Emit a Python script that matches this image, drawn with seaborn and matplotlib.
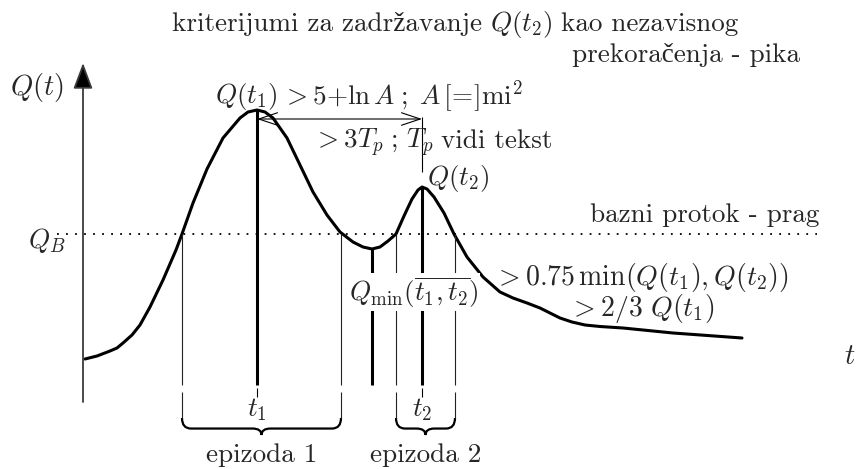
import numpy as np
import pandas as pd
import matplotlib
matplotlib.use("Agg")
import matplotlib.pyplot as plt
from matplotlib.path import Path
from matplotlib.patches import PathPatch
import seaborn as sns

# Hydrograph Q(t): time and discharge in drawing units (origin at the axes crossing)
t_vals = [2, 14, 27, 34, 40, 49, 57, 67, 80, 93, 99, 110, 124, 140, 157, 165, 174, 182, 190,
          204, 217, 230, 244, 257, 270, 280, 289, 297, 305, 313, 321, 329, 335, 339, 344,
          351, 361, 371, 384, 400, 417, 430, 444, 457, 477, 489, 502, 517, 540, 590, 659]
q_vals = [26, 29, 34, 37, 42, 50, 60, 78, 105, 135, 151, 182, 216, 247, 267, 273, 275, 273, 267,
          247, 220, 193, 170, 153, 143, 138, 136, 138, 144, 151, 169, 186, 195, 198, 196,
          188, 172, 151, 128, 108, 93, 87, 82, 77, 67, 63, 60, 58.5, 57, 52, 47]

# Characteristic points
t1, q1 = 174, 275
t2, q2 = 339, 198
t_min, q_min = 289, 136
q_base = 151
episode1 = (99, 258)
episode2 = (313, 372)

sns.set_theme(style="white")
plt.rcParams["font.family"] = ["cmr10", "Liberation Serif"]
plt.rcParams["mathtext.fontset"] = "cm"
plt.rcParams["axes.formatter.use_mathtext"] = True
plt.rcParams["axes.unicode_minus"] = False

fig = plt.figure(figsize=(8.59, 4.69), dpi=100)
ax = fig.add_axes([0, 0, 1, 1])
ax.set_xlim(-83, 776)
ax.set_ylim(-84, 385)
ax.axis("off")

ink = "black"
axis_col = "#3a3a3a"
fs = 19.5

# coordinate axes with filled arrowheads
head = "-|>,head_length=0.8,head_width=0.3"
ax.annotate("", xy=(779, 0), xytext=(-10, 0),
            arrowprops=dict(arrowstyle=head, mutation_scale=20, lw=1.3,
                            color=axis_col, fc=ink, ec=axis_col, shrinkA=0, shrinkB=0))
ax.annotate("", xy=(0, 322), xytext=(0, -17),
            arrowprops=dict(arrowstyle=head, mutation_scale=20, lw=1.3,
                            color=axis_col, fc=ink, ec=axis_col, shrinkA=0, shrinkB=0))

# base-flow threshold
ax.hlines(q_base, -26, 734, colors=ink, linestyles=(0, (1, 4)), lw=1.3)

# hydrograph
df = pd.DataFrame({"t": t_vals, "Q": q_vals})
sns.lineplot(data=df, x="t", y="Q", color=ink, lw=2.2, sort=False,
             estimator=None, ax=ax, legend=False)

# peaks and trough
ax.vlines([t1, t_min, t2], 0, [q1, q_min, q2], colors=ink, lw=2.2, zorder=3)
ax.vlines([t1, t2], -3, -12, colors=ink, lw=0.8)

# episode boundaries (threshold crossings)
bounds = list(episode1) + list(episode2)
ax.vlines(bounds, 0, q_base, colors="#222222", lw=0.8, zorder=3)
ax.vlines(bounds, -7, -33, colors="#222222", lw=0.8)


def brace(x0, x1, y_top, depth=17, r=9):
    xc = (x0 + x1) / 2
    ym = y_top - depth * 0.62
    verts = [(x0, y_top), (x0, ym), (x0 + r, ym), (xc - r, ym), (xc, ym), (xc, y_top - depth),
             (xc, ym), (xc + r, ym), (x1 - r, ym), (x1, ym), (x1, y_top)]
    codes = [Path.MOVETO, Path.CURVE3, Path.CURVE3, Path.LINETO, Path.CURVE3, Path.CURVE3,
             Path.CURVE3, Path.CURVE3, Path.LINETO, Path.CURVE3, Path.CURVE3]
    ax.add_patch(PathPatch(Path(verts, codes), fc="none", ec=ink, lw=1.6))
    return xc


c1 = brace(*episode1, -33)
c2 = brace(*episode2, -33)

# separation between peaks
ax.vlines(t2, 213, 268, colors=ink, lw=0.8)
ax.annotate("", xy=(t2, 266), xytext=(t1, 266),
            arrowprops=dict(arrowstyle="<->,head_length=0.9,head_width=0.3",
                            mutation_scale=15, lw=0.8, color=ink, shrinkA=0, shrinkB=0))

renderer = fig.canvas.get_renderer()


def text_run(x, y, pieces, gap=8):
    """Write text pieces one after another on a common baseline."""
    for s in pieces:
        t = ax.text(x, y, s, fontsize=fs, ha="left", va="baseline")
        bb = t.get_window_extent(renderer)
        x = ax.transData.inverted().transform((bb.x1, bb.y0))[0] + gap


text_run(89, 354, ["kriterijumi za zadržavanje", r"$Q(t_2)$", "kao nezavisnog"])
ax.text(489, 323, "prekoračenja - pika", fontsize=fs, ha="left", va="baseline")

ax.text(-46, 298, r"$Q(t)$", fontsize=fs + 1, ha="center", va="center")
ax.text(-36, 145, r"$Q_B$", fontsize=fs, ha="center", va="center")
ax.text(767, 28, r"$t$", fontsize=fs + 1, ha="center", va="center")

ax.text(t1 - 11, 289, r"$Q(t_1)$", fontsize=fs, ha="center", va="center")
ax.text(199, 280, r"$> 5{+}\ln A\;;\;A\,[\!=\!]\mathrm{mi}^2$", fontsize=fs,
        ha="left", va="baseline")
text_run(230, 237, [r"$> 3T_p\;;\,T_p$", "vidi tekst"], gap=7)
ax.text(t2 + 36, 207, r"$Q(t_2)$", fontsize=fs, ha="center", va="center")
ax.text(507, 170, "bazni protok - prag", fontsize=fs, ha="left", va="center")

ax.text(331, 93, r"$Q_{\min}(\overline{t_1,t_2})$", fontsize=fs, ha="center", va="center",
        zorder=5, bbox=dict(fc="white", ec="none", pad=1.0))
ax.text(411, 108, r"$> 0.75\,\min(Q(t_1),Q(t_2))$", fontsize=fs + 0.5, ha="left", va="center")
ax.text(486, 77, r"$> 2/3\ Q(t_1)$", fontsize=fs + 0.5, ha="left", va="center")

ax.text(t1, -25, r"$t_1$", fontsize=fs, ha="center", va="center")
ax.text(t2, -25, r"$t_2$", fontsize=fs, ha="center", va="center")
ax.text(c1, -70, "epizoda 1", fontsize=fs, ha="center", va="center")
ax.text(c2, -70, "epizoda 2", fontsize=fs, ha="center", va="center")

fig.savefig("out.png", dpi=100)
